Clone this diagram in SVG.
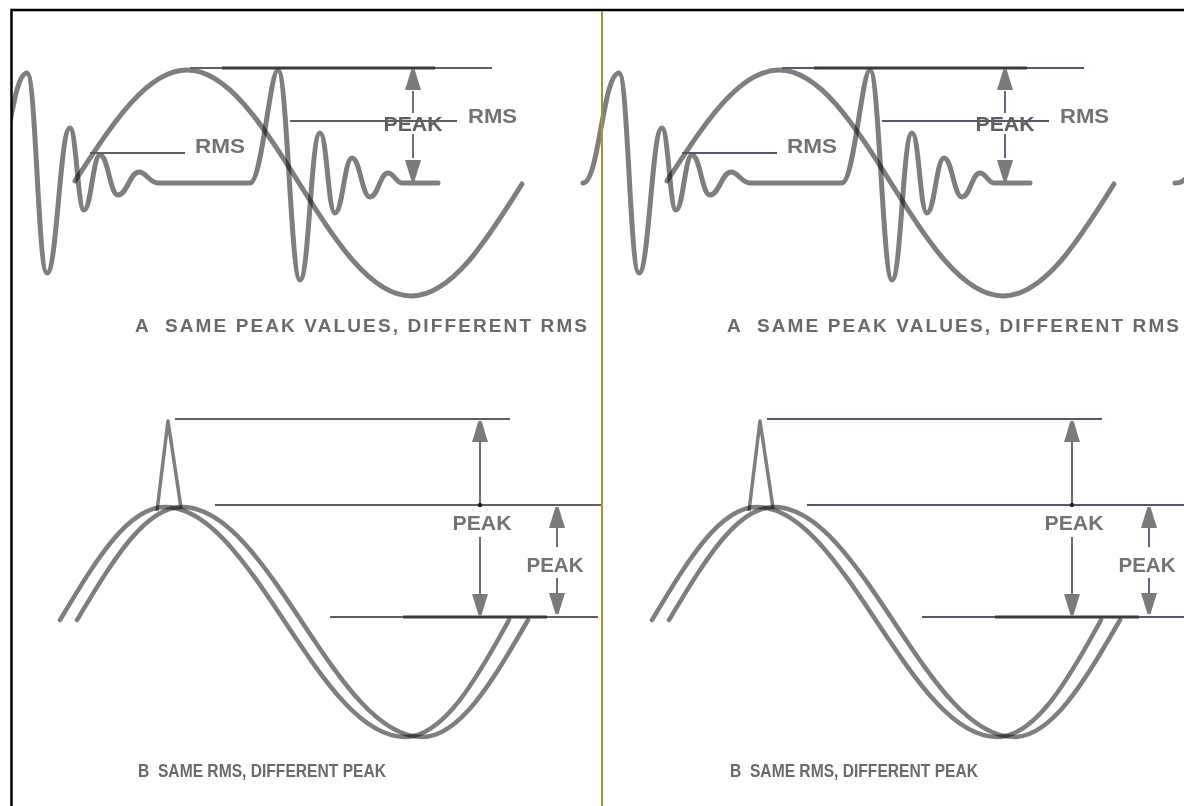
<svg xmlns="http://www.w3.org/2000/svg" xmlns:xlink="http://www.w3.org/1999/xlink" width="1184" height="806" viewBox="0 0 1184 806">
  <style>
    .wave{fill:none;stroke:#7e7e7e;stroke-width:5;stroke-linecap:round;stroke-linejoin:round;mix-blend-mode:multiply}
    .wave2{fill:none;stroke:#7e7e7e;stroke-width:4.5;stroke-linecap:round;stroke-linejoin:round;mix-blend-mode:multiply}
    .spike{fill:none;stroke:#7e7e7e;stroke-width:3.5;stroke-linejoin:round;mix-blend-mode:multiply}
    .ln{fill:none;stroke:currentColor;stroke-width:1.8}
    .lnb{fill:none;stroke:#3a3a3a;stroke-width:3}
    .ah{fill:#7a7a7a}
    .lbl{font-family:"Liberation Sans",Arial,sans-serif;font-weight:bold;font-size:20px;fill:#727272}
    .cap{font-family:"Liberation Sans",Arial,sans-serif;font-weight:bold;font-size:19px;fill:#6a6a6a;white-space:pre}
  </style>
  <defs>
    <path id="ahUp" class="ah" d="M-1.5,0 L1.5,0 L8,21 L-8,21 Z"/>
    <path id="ahDown" class="ah" d="M-1.5,0 L1.5,0 L8,-21 L-8,-21 Z"/>
    <clipPath id="clipL"><rect x="12" y="11" width="591" height="795"/></clipPath>
    <g id="panel">
      <g id="graph-a">
        <path class="wave" d="M-9,183 C7,183 11,73 27,73 C36,73 38,273 47,273 C57,273 60,128 70,128 C76,128 78,210 84,210 C91,210 93,155 100,155 C108,155 110,195 118,195 C127,195 130,172 139,172 C146,172 150,183 158,183 L250,183 C262,183 270,70 278,70 C287,70 291,280 300,280 C309,280 311,133 320,133 C327,133 328,213 335,213 C342.5,213 344.5,158 352,158 C360,158 362,197 370,197 C378,197 380,173 388,173 C394,173 396,183 402,183 L438,183"/>
        <path class="wave" d="M75,181 C111.5,125.1 146.5,70 187,70 C227.5,70 262.5,125.1 299,183 C335.5,240.9 370.5,296 411,296 C451.5,296 486.5,240.9 522,184"/>
        <g id="a-lines">
          <path class="ln" d="M190,68 H492"/>
          <path class="lnb" d="M222,68 H435"/>
          <path class="ln" d="M290,121 H457"/>
          <path class="ln" d="M90,153 H185"/>
          <path class="ln" d="M413,91 V113 M413,134 V158"/>
          <use href="#ahUp" x="413" y="69"/>
          <use href="#ahDown" x="413" y="181"/>
        </g>
        <text class="lbl" x="413" y="131" text-anchor="middle" textLength="59" lengthAdjust="spacingAndGlyphs" style="fill:#5f5f5f">PEAK</text>
        <text class="lbl" x="468" y="123" textLength="49" lengthAdjust="spacingAndGlyphs">RMS</text>
        <text class="lbl" x="195" y="153" textLength="50" lengthAdjust="spacingAndGlyphs">RMS</text>
        <text class="cap" x="135" y="332" textLength="452" lengthAdjust="spacing" xml:space="preserve">A  SAME PEAK VALUES, DIFFERENT RMS</text>
      </g>
      <g id="graph-b">
        <path class="wave2" d="M60,620 C94.2,563.1 127,507 165,507 C208.4,507 245.9,563.1 285,622 C324.1,680.9 361.6,737 405,737 C443,737 475.8,680.9 509,620"/>
        <path class="wave2" d="M77,620 C111.2,563.1 144,507 182,507 C225.4,507 262.9,563.1 302,622 C341.1,680.9 378.6,737 422,737 C460,737 492.8,680.9 528,620"/>
        <path class="spike" d="M157,511 L168,421 L181,508"/>
        <g id="b-lines">
          <path class="ln" d="M175,419 H510"/>
          <path class="ln" d="M215,505 H603"/>
          <path class="ln" d="M330,617 H598"/>
          <path class="lnb" d="M403,617 H547"/>
          <path class="ln" d="M480,441 V505 M480,537 V594"/>
          <circle cx="480" cy="505" r="2.2" fill="#222"/>
          <use href="#ahUp" x="480" y="421"/>
          <use href="#ahDown" x="480" y="615"/>
          <path class="ln" d="M557,527 V547 M557,578 V593"/>
          <use href="#ahUp" x="557" y="507"/>
          <use href="#ahDown" x="557" y="614"/>
        </g>
        <text class="lbl" x="482" y="530" text-anchor="middle" textLength="59" lengthAdjust="spacingAndGlyphs">PEAK</text>
        <text class="lbl" x="555" y="572" text-anchor="middle" textLength="57" lengthAdjust="spacingAndGlyphs">PEAK</text>
        <text class="cap" x="138" y="777" textLength="248" lengthAdjust="spacingAndGlyphs" xml:space="preserve">B  SAME RMS, DIFFERENT PEAK</text>
      </g>
    </g>
  </defs>
  <rect width="1184" height="806" fill="#ffffff"/>
  <g id="left-panel" clip-path="url(#clipL)" style="color:#5c6454">
    <use href="#panel"/>
  </g>
  <g id="right-panel" style="color:#5a5470">
    <use href="#panel" x="592"/>
  </g>
  <g id="edge-fragment">
    <path class="wave" d="M1175,183 C1180,183 1182,182 1184,180"/>
  </g>
  <g id="frame">
    <path d="M11.5,806 V10 H1184" fill="none" stroke="#000" stroke-width="2.5"/>
    <line x1="602" y1="11" x2="602" y2="806" stroke="#a39440" stroke-width="2"/>
  </g>
</svg>
